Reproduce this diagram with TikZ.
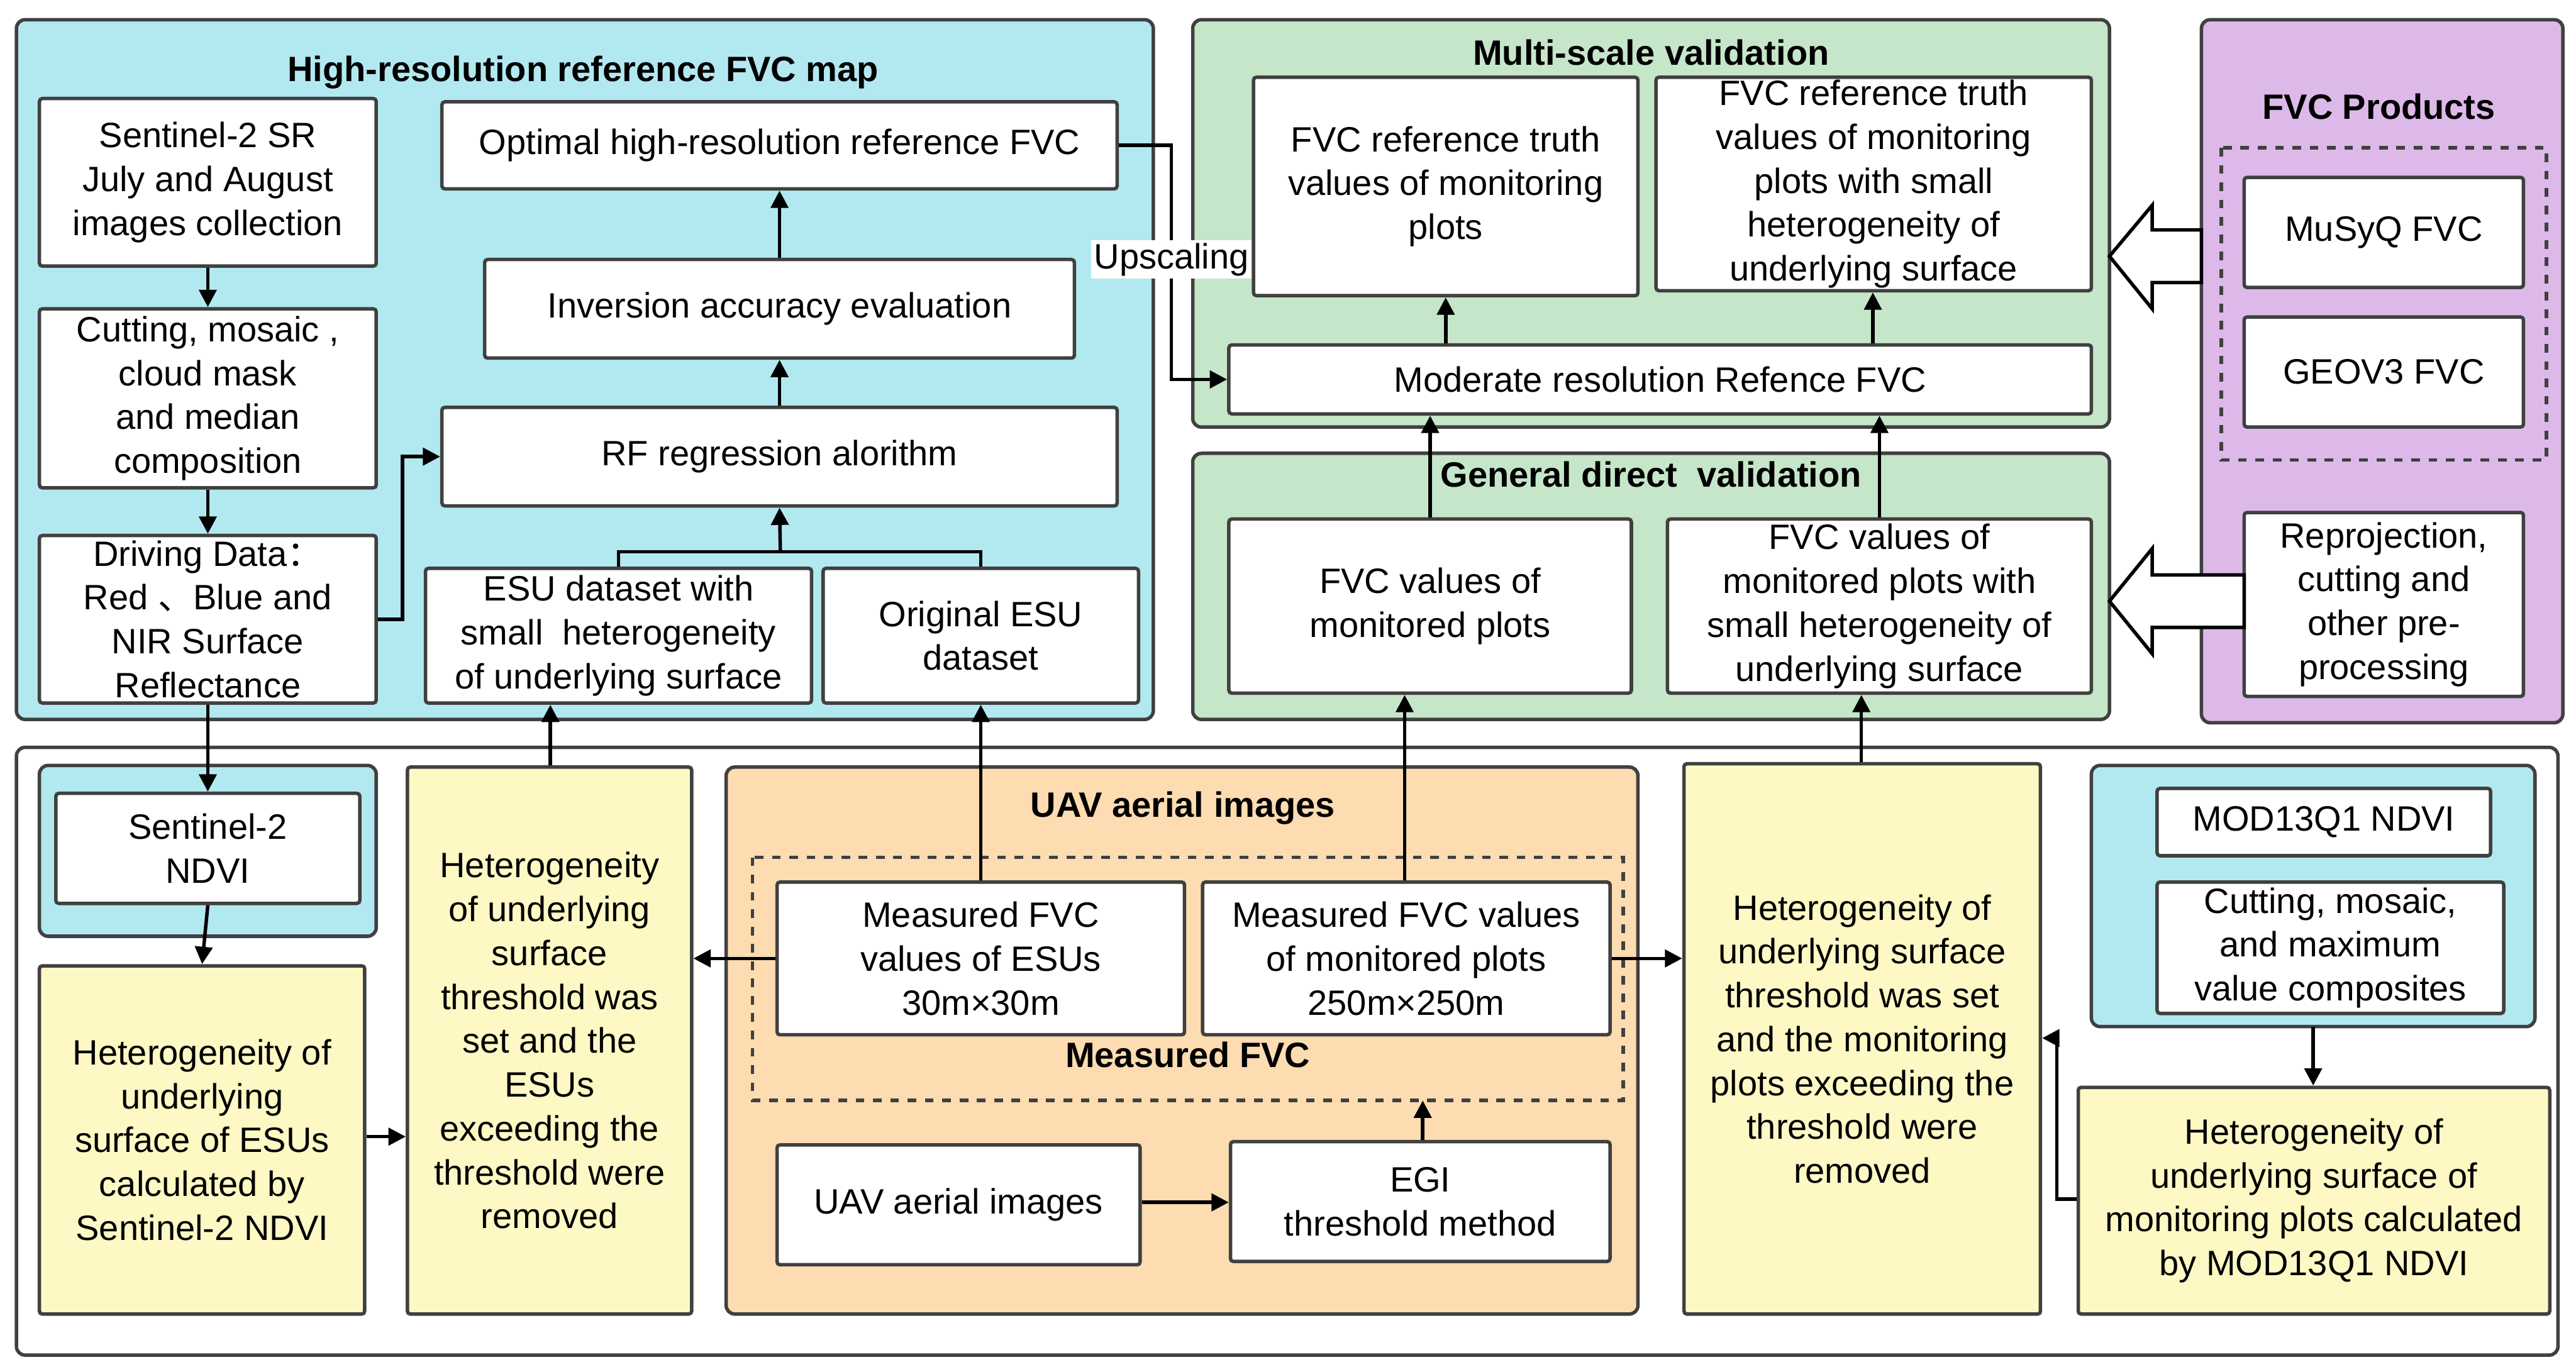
\documentclass[tikz,border=0pt]{standalone}
\usepackage{fontspec}
\setmainfont{Liberation Sans}
\newfontfamily\cjk{Noto Sans CJK SC}
\usetikzlibrary{arrows.meta,fit,positioning}
\definecolor{cyanbg}{HTML}{B2E9F1}
\definecolor{greenbg}{HTML}{C6E6C9}
\definecolor{purplebg}{HTML}{DDB9E9}
\definecolor{orangebg}{HTML}{FCDCB0}
\definecolor{yellowbg}{HTML}{FDF8C4}
\definecolor{edge}{HTML}{404040}

\begin{document}
\begin{tikzpicture}[x=0.02cm,y=-0.02cm,>={Triangle[length=6pt,width=6pt]},
    font=\fontsize{12.2}{15.2}\selectfont,
    box/.style={draw=edge,line width=1.2pt,fill=white,inner sep=0pt,rounded corners=1pt},
    ybox/.style={box,fill=yellowbg},
    every label/.style={align=center,inner sep=0pt},
    panel/.style={draw=edge,line width=1.2pt,rounded corners=3pt},
    title/.style={font=\fontsize{12.2}{14}\selectfont\bfseries},
    con/.style={->,line width=1.2pt,draw=black},
    hollow/.style={draw=black,line width=1.2pt,fill=white}]

  \useasboundingbox (0,0) rectangle (1568,835);

  % panels
  \draw[panel,fill=cyanbg] (10,12) rectangle (702,438);
  \node[title] (tmap) at (355,44) {High-resolution reference FVC map};
  \draw[panel,fill=greenbg] (726,12) rectangle (1284,260);
  \node[title] (tmulti) at (1005,32) {Multi-scale validation};
  \draw[panel,fill=greenbg] (726,276) rectangle (1284,438);
  \node[title] (tdirect) at (1005,289) {General direct\ \ validation};
  \draw[panel,fill=purplebg] (1340,12) rectangle (1560,440);
  \node[title] (tprod) at (1448,65) {FVC Products};
  \draw[edge,line width=1.2pt,dashed] (1352,90) rectangle (1550,280);
  \draw[panel] (10,455) rectangle (1557,825);
  \draw[panel,fill=cyanbg] (24,466) rectangle (229,570);
  \draw[panel,fill=orangebg] (442,467) rectangle (997,800);
  \node[title] (tuav) at (720,492) {UAV aerial images};
  \draw[edge,line width=1.2pt,dashed] (458,522) rectangle (988,670);
  \node[title] (tmeas) at (723,642) {Measured FVC};
  \draw[panel,fill=cyanbg] (1273,466) rectangle (1543,625);

  % top left
  \node[box,fit={(24,60) (229,162)},label={center:Sentinel-2 SR\\July and August\\images collection}] (s2sr) {};
  \node[box,fit={(24,188) (229,297)},label={center:Cutting, mosaic ,\\cloud mask\\and median\\composition}] (cut) {};
  \node[box,fit={(24,326) (229,428)},label={center:Driving Data{\cjk ：}\\Red {\cjk 、}Blue and\\NIR Surface\\Reflectance}] (drive) {};
  \node[box,fit={(269,62) (680,115)},label={center:Optimal high-resolution reference FVC}] (opt) {};
  \node[box,fit={(295,158) (654,218)},label={center:Inversion accuracy evaluation}] (inv) {};
  \node[box,fit={(269,248) (680,308)},label={center:RF regression alorithm}] (rf) {};
  \node[box,fit={(259,346) (494,428)},label={center:ESU dataset with\\small\ \ heterogeneity\\of underlying surface}] (esusmall) {};
  \node[box,fit={(501,346) (693,428)},label={center:Original ESU\\dataset}] (orig) {};

  % validation
  \node[box,fit={(763,47) (997,180)},label={center:FVC reference truth\\values of monitoring\\plots}] (truth1) {};
  \node[box,fit={(1008,47) (1273,177)},label={center:FVC reference truth\\values of monitoring\\plots with small\\heterogeneity of\\underlying surface}] (truth2) {};
  \node[box,fit={(748,210) (1273,252)},label={center:Moderate resolution Refence FVC}] (moder) {};
  \node[box,fit={(748,316) (993,422)},label={center:FVC values of\\monitored plots}] (mon1) {};
  \node[box,fit={(1015,316) (1273,422)},label={center:FVC values of\\monitored plots with\\small heterogeneity of\\underlying surface}] (mon2) {};

  % products
  \node[box,fit={(1366,108) (1536,175)},label={center:MuSyQ FVC}] (musyq) {};
  \node[box,fit={(1366,193) (1536,260)},label={center:GEOV3 FVC}] (geov) {};
  \node[box,fit={(1366,312) (1536,424)},label={center:Reprojection,\\cutting and\\other pre-\\processing}] (repro) {};

  % bottom
  \node[box,fit={(34,483) (219,550)},label={center:Sentinel-2\\NDVI}] (s2ndvi) {};
  \node[ybox,fit={(24,588) (222,800)},label={center:Heterogeneity of\\underlying\\surface of ESUs\\calculated by\\Sentinel-2 NDVI}] (het1) {};
  \node[ybox,fit={(248,467) (421,800)},label={center:Heterogeneity\\of underlying\\surface\\threshold was\\set and the\\ESUs\\exceeding the\\threshold were\\removed}] (het2) {};
  \node[box,fit={(473,537) (721,630)},label={center:Measured FVC\\values of ESUs\\30m×30m}] (mfvc1) {};
  \node[box,fit={(732,537) (980,630)},label={center:Measured FVC values\\of monitored plots\\250m×250m}] (mfvc2) {};
  \node[box,fit={(473,697) (694,770)},label={center:UAV aerial images}] (uav) {};
  \node[box,fit={(749,695) (980,768)},label={center:EGI\\threshold method}] (egi) {};
  \node[ybox,fit={(1025,465) (1242,800)},label={center:Heterogeneity of\\underlying surface\\threshold was set\\and the monitoring\\plots exceeding the\\threshold were\\removed}] (het3) {};
  \node[box,fit={(1313,480) (1516,521)},label={center:MOD13Q1 NDVI}] (mod13) {};
  \node[box,fit={(1313,537) (1524,617)},label={center:Cutting, mosaic,\\and maximum\\value composites}] (cutmax) {};
  \node[ybox,fit={(1265,662) (1552,800)},label={center:Heterogeneity of\\underlying surface of\\monitoring plots calculated\\by MOD13Q1 NDVI}] (het4) {};

  \coordinate (dashbot) at (866,670);
  \coordinate (cyanbot) at (1408,625);

  % connectors
  \draw[con] (s2sr) -- (cut);
  \draw[con] (cut) -- (drive);
  \draw[con] (drive.east |- 0,377) -| (245,278) -- (rf.west |- 0,278);
  \draw[line width=1.2pt] (esusmall.north) |- (475,336) -| (orig.north);
  \draw[con] (475,336) -- (rf.south);
  \draw[con] (rf) -- (inv);
  \draw[con] (inv) -- (opt);
  \draw[con] (opt.east) -| (713,231) -- (moder.west |- 0,231);
  \node[fill=white,inner sep=1pt] (upsc) at (713,158) {Upscaling};
  \draw[con] (moder.north -| 880,0) -- (truth1.south -| 880,0);
  \draw[con] (moder.north -| 1140,0) -- (truth2.south -| 1140,0);
  \draw[con] (mon1.north) -- (moder.south -| mon1.north);
  \draw[con] (mon2.north) -- (moder.south -| mon2.north);
  \draw[con] (drive.south) -- (s2ndvi.north);
  \draw[con] (s2ndvi.south) -- (het1.north);
  \draw[con] (het1.east |- 0,692) -- (het2.west |- 0,692);
  \draw[con] (het2.north -| 335,0) -- (esusmall.south -| 335,0);
  \draw[con] (mfvc1.north) -- (orig.south);
  \draw[con] (mfvc1.west) -- (het2.east |- mfvc1.west);
  \draw[con] (mfvc2.north -| 855,0) -- (mon1.south -| 855,0);
  \draw[con] (mfvc2.east) -- (het3.west |- mfvc2.east);
  \draw[con] (het3.north -| 1133,0) -- (mon2.south -| 1133,0);
  \draw[con] (uav.east |- 0,732) -- (egi.west |- 0,732);
  \draw[con] (egi.north -| dashbot) -- (dashbot);
  \draw[con] (cyanbot) -- (het4.north -| cyanbot);
  \draw[con] (het4.west |- 0,730) -| (1252,632) -- (het3.east |- 0,632);

  % hollow arrows
  \draw[hollow] (1340,140) -- (1310,140) -- (1310,125) -- (1284,156) -- (1310,188) -- (1310,172) -- (1340,172) -- cycle;
  \draw[hollow] (1366,350) -- (1310,350) -- (1310,334) -- (1284,366) -- (1310,398) -- (1310,382) -- (1366,382) -- cycle;
\end{tikzpicture}
\end{document}
